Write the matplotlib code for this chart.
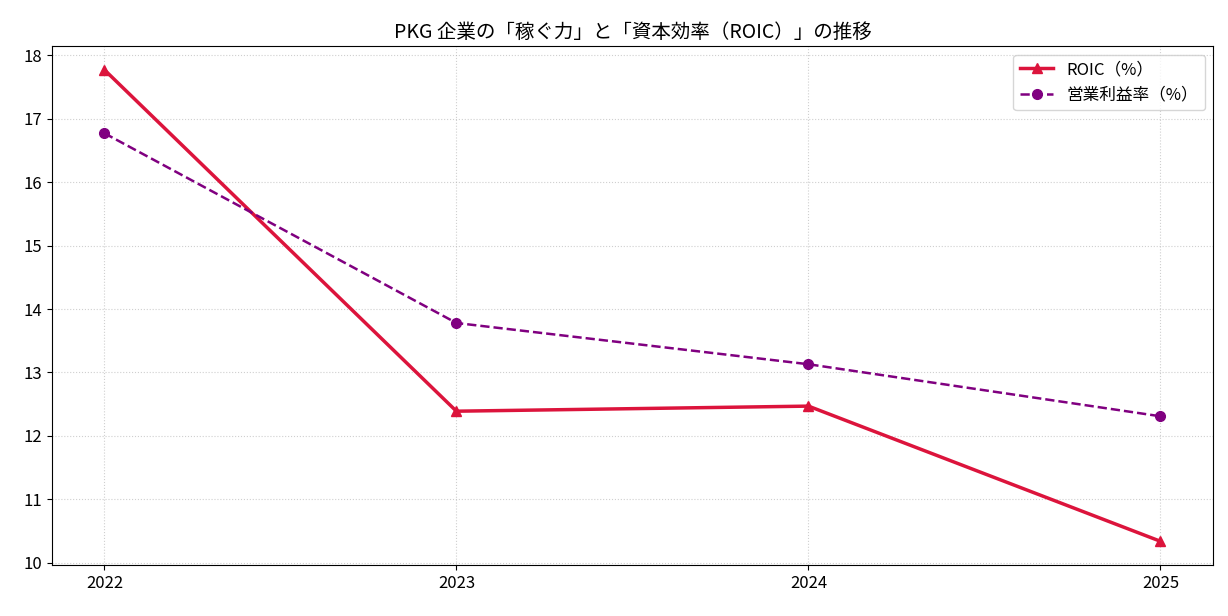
import matplotlib.pyplot as plt

plt.rcParams['font.family'] = ['Noto Sans CJK JP', 'DejaVu Sans']

# data
years = ["2022", "2023", "2024", "2025"]
roic = [17.77, 12.39, 12.47, 10.34]
op_margin = [16.77, 13.78, 13.13, 12.31]

fig, ax = plt.subplots(figsize=(12.28, 6.16), dpi=100)

x = range(len(years))
ax.plot(x, roic, color="crimson", marker="^", linewidth=2.5, markersize=7, label="ROIC（%）")
ax.plot(x, op_margin, color="purple", marker="o", linestyle="--", linewidth=1.8, markersize=7, label="営業利益率（%）")

ax.set_xticks(list(x))
ax.set_xticklabels(years)
ax.set_title("PKG 企業の「稼ぐ力」と「資本効率（ROIC）」の推移", fontsize=14)
ax.grid(True, linestyle=":", alpha=0.6)
ax.legend(loc="upper right", fontsize=12)
ax.tick_params(labelsize=12)

fig.subplots_adjust(left=0.042, right=0.988, top=0.925, bottom=0.083)
plt.savefig("out.png")
